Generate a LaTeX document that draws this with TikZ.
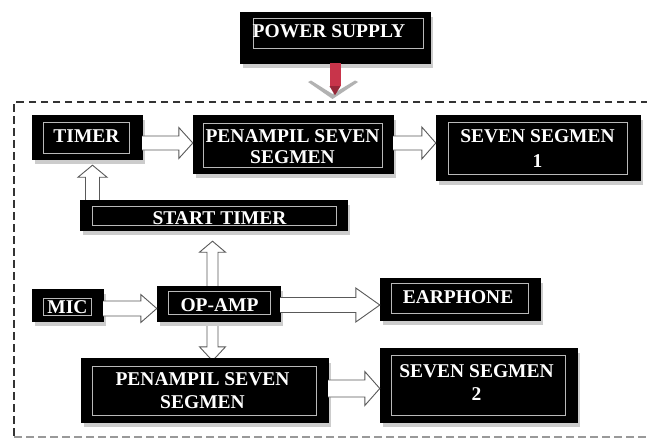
\documentclass[tikz,border=0pt]{standalone}
\usepackage{fontspec}
\setmainfont{Liberation Serif}
\usetikzlibrary{calc,shadows}
\pgfdeclarelayer{background}
\pgfsetlayers{background,main}
\definecolor{pwred}{HTML}{C8344A}
\tikzset{
  blk/.style={fill=black, draw=black, inner sep=0pt,
    drop shadow={shadow xshift=2.5pt, shadow yshift=-4.5pt, fill=black!20, opacity=1}},
  frm/.style={draw=gray!55, line width=0.9pt},
  lbl/.style={text=white, font=\fontsize{19.5}{23}\selectfont\bfseries, inner sep=0pt, anchor=base},
  openarrow/.style={fill=white, draw=black!65, line width=0.9pt, line join=miter},
  dframe/.style={draw=black!80, line width=2.2pt, dash pattern=on 7.5pt off 4.5pt},
}
% name, x1,y1,x2,y2, ix1,iy1,ix2,iy2 (pixel coordinates)
\newcommand\blkbox[9]{%
  \node[blk, minimum width={(#4-#2)*1pt}, minimum height={(#5-#3)*1pt}] (#1) at ({(#2+#4)/2},{(#3+#5)/2}) {};
  \draw[frm] (#6,#7) rectangle (#8,#9);}
% horizontal open arrow: from, to, yc, shaft half, head half, head length
\newcommand\harr[6]{%
  \path[openarrow] let \p1=(#1), \p2=(#2) in
   (\x1,-#3pt+#4pt) -- (\x2-#6pt,-#3pt+#4pt) -- (\x2-#6pt,-#3pt+#5pt) -- (\x2,-#3pt)
   -- (\x2-#6pt,-#3pt-#5pt) -- (\x2-#6pt,-#3pt-#4pt) -- (\x1,-#3pt-#4pt);}
% upward open arrow: from (lower node), to (upper node), xc, shaft half, head half, head length, gap
\newcommand\uarr[7]{%
  \path[openarrow] let \p1=(#1), \p2=(#2) in
   (#3pt-#4pt,\y1) -- (#3pt-#4pt,\y2-#7pt-#6pt) -- (#3pt-#5pt,\y2-#7pt-#6pt) -- (#3pt,\y2-#7pt)
   -- (#3pt+#5pt,\y2-#7pt-#6pt) -- (#3pt+#4pt,\y2-#7pt-#6pt) -- (#3pt+#4pt,\y1);}
% downward open arrow: from (upper node), to (lower node), xc, shaft half, head half, head length, overlap
\newcommand\darr[7]{%
  \path[openarrow] let \p1=(#1), \p2=(#2) in
   (#3pt-#4pt,\y1) -- (#3pt-#4pt,\y2-#7pt+#6pt) -- (#3pt-#5pt,\y2-#7pt+#6pt) -- (#3pt,\y2-#7pt)
   -- (#3pt+#5pt,\y2-#7pt+#6pt) -- (#3pt+#4pt,\y2-#7pt+#6pt) -- (#3pt+#4pt,\y1);}
\begin{document}
\begin{tikzpicture}[x=1pt,y=-1pt]
\useasboundingbox (0,0) rectangle (647,439);
\clip (0,0) rectangle (647,439);
\begin{pgfonlayer}{background}
\fill[white] (0,0) rectangle (647,439);
\end{pgfonlayer}

% dashed system frame
\draw[dframe] (660,102) -- (14,102) -- (14,445);
\draw[dframe, draw=black!40, line width=1.4pt] (14,437) -- (660,437);

% blocks
\blkbox{power}{240}{12}{430}{63}{253}{18}{423}{48}
\blkbox{timer}{32}{115}{142}{159}{43}{122}{129}{153}
\blkbox{pen1}{193}{115}{393}{173}{203}{123}{382}{167}
\blkbox{ss1}{436}{115}{640}{180}{448}{122}{627}{174}
\blkbox{stimer}{80}{200}{347}{230}{92}{206}{336}{225}
\blkbox{mic}{32}{289}{103}{321}{43}{298}{91}{315}
\blkbox{op}{157}{286}{280}{321}{168}{291}{270}{314}
\blkbox{ear}{380}{278}{540}{320}{391}{283}{528}{313}
\blkbox{pen2}{81}{358}{328}{422}{92}{366}{316}{415}
\blkbox{ss2}{380}{348}{577}{422}{391}{355}{565}{415}

% labels (anchored at baselines)
\node[lbl] (powert) at (329,37) {POWER SUPPLY};
\node[lbl] (timert) at (86.5,142) {TIMER};
\node[lbl] (pen1ta) at (292.5,142) {PENAMPIL SEVEN};
\node[lbl] (pen1tb) at (292.5,163) {SEGMEN};
\node[lbl] (ss1ta) at (537.5,142) {SEVEN SEGMEN};
\node[lbl] (ss1tb) at (537.5,167) {1};
\node[lbl] (stimert) at (219.5,224) {START TIMER};
\node[lbl] (mict) at (67.5,313) {MIC};
\node[lbl] (opt) at (219.5,311.5) {OP-AMP};
\node[lbl] (eart) at (458,303) {EARPHONE};
\node[lbl] (pen2ta) at (202.5,385) {PENAMPIL SEVEN};
\node[lbl] (pen2tb) at (202.5,408) {SEGMEN};
\node[lbl] (ss2ta) at (476.5,377) {SEVEN SEGMEN};
\node[lbl] (ss2tb) at (476.5,400) {2};

% power supply arrow
\coordinate (ftop) at (332.5,99);
\fill[black!30] (308,82) -- (ftop) -- (358,82) -- (355,80.5) -- (332.5,94) -- (311,80.5) -- cycle;
\fill[pwred] ($(power.south)+(-5.5,0)$) rectangle ($(power.south)+(5.5,23)$);
\fill[pwred!75!black] ($(power.south)+(-5.5,23)$) -- ($(power.south)+(5.5,23)$) -- ($(power.south)+(0,32)$) -- cycle;

% connectors
\harr{timer.east}{pen1.west}{143}{7}{15.5}{14}
\harr{pen1.east}{ss1.west}{143}{7}{16}{14}
\uarr{stimer.north}{timer.south}{92.5}{7}{14.5}{12}{6}
\harr{mic.east}{op.west}{308.5}{7.5}{14}{16}
\uarr{op.north}{stimer.south}{212.5}{5.5}{13}{11}{11}
\harr{op.east}{ear.west}{305}{7.5}{17}{24}
\begin{pgfonlayer}{background}
\darr{op.south}{pen2.north}{212.5}{5.5}{13}{14}{3}
\end{pgfonlayer}
\harr{pen2.east}{ss2.west}{388.5}{8.5}{17}{15}
\end{tikzpicture}
\end{document}
